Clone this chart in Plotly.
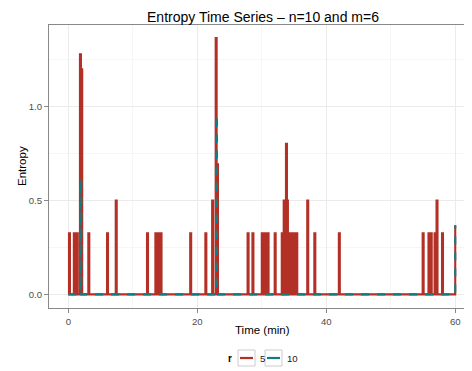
import plotly.graph_objects as go

# ---------------- data ----------------
# r = 5 : spikes (time in minutes, entropy)
r5_spike_times = [0.1, 0.85, 1.3, 1.8, 2.0, 3.1, 6.0, 7.35, 12.2, 13.5, 13.95, 14.3,
                  18.9, 21.25, 22.3, 22.85, 23.05, 27.8, 28.55, 30.0, 30.3, 30.6, 30.9,
                  32.0, 33.1, 33.4, 33.75, 33.9, 34.15, 34.45, 34.75, 35.05, 35.35,
                  37.05, 38.15, 41.95, 54.95, 55.85, 56.2, 56.8, 57.1, 57.95]
r5_spike_values = [0.325, 0.325, 0.325, 1.28, 1.2, 0.325, 0.325, 0.5, 0.325, 0.325, 0.325, 0.325,
                   0.325, 0.325, 0.5, 1.366, 0.693, 0.325, 0.325, 0.325, 0.325, 0.325, 0.325,
                   0.325, 0.325, 0.5, 0.802, 0.5, 0.325, 0.325, 0.325, 0.325, 0.325,
                   0.5, 0.325, 0.325, 0.325, 0.325, 0.325, 0.325, 0.5, 0.325]
# r = 10 : spikes
r10_spike_times = [1.85, 22.9]
r10_spike_values = [0.611, 0.954]

start_time = 0.0
end_time = 60.0
r5_end_value = 0.368
r10_end_value = 0.368
sample_width = 0.15          # one sample (minutes)

series_names = ["5", "10"]
colors = ["#B23026", "#117C82"]

x_ticks = [0, 20, 40, 60]
y_ticks = [0.0, 0.5, 1.0]
y_tick_labels = ["0.0", "0.5", "1.0"]


def build(times, values, end_value, w=sample_width):
    xs, ys = [start_time], [0.0]
    for i, (t, v) in enumerate(zip(times, values)):
        xs.append(t); ys.append(v)
        nxt = times[i + 1] if i + 1 < len(times) else None
        if nxt is None or nxt > t + w + 1e-9:
            xs.append(t + w); ys.append(0.0)
    xs.append(end_time); ys.append(end_value)
    return xs, ys


x5, y5 = build(r5_spike_times, r5_spike_values, r5_end_value)
x10, y10 = build(r10_spike_times, r10_spike_values, r10_end_value)

FONT = "Liberation Sans, Arial, sans-serif"

fig = go.Figure()
fig.add_trace(go.Scatter(x=x5, y=y5, mode="lines", name=series_names[0],
                         line=dict(color=colors[0], width=2.1, shape="hv"), showlegend=False))
fig.add_trace(go.Scatter(x=x10, y=y10, mode="lines", name=series_names[1],
                         line=dict(color=colors[1], width=2.1, dash="8px,8px", shape="hv"),
                         showlegend=False))

# page is drawn with an 8px body margin; compensate so the panel lands where the reference has it
OFF = 8
PAGE_W, PAGE_H = 472, 371
PL, PT, PR, PB = 49, 25, 472, 308          # panel box in page pixels
W, H = PAGE_W - OFF, PAGE_H - OFF
L, T, R, B = PL - OFF, PT - OFF, 0, PAGE_H - PB
PW, PH = W - L - R, H - T - B


def px(xp):
    return (xp - PL) / PW


def py(yp):
    return (PB - yp) / PH


fig.update_layout(
    width=W, height=H,
    margin=dict(l=L, r=R, t=T, b=B, pad=0),
    paper_bgcolor="white", plot_bgcolor="white",
    font=dict(family=FONT, color="#1a1a1a"),
    title=dict(text="Entropy Time Series \u2013 n=10 and m=6", x=px(263), xref="paper",
               xanchor="center", y=1 - (17.5 - OFF) / H, yref="container", yanchor="middle",
               font=dict(size=14, color="#000000", family=FONT)),
    xaxis=dict(range=[-3, 62.6], tickvals=x_ticks, ticktext=[str(v) for v in x_ticks],
               showgrid=True, gridcolor="#EBEBEB", gridwidth=1,
               minor=dict(dtick=10, tick0=0, showgrid=True, gridcolor="#F6F6F6", gridwidth=1),
               zeroline=False, showline=True, linecolor="#888888", linewidth=1, mirror=True,
               ticks="outside", ticklen=4, tickcolor="#888888", tickwidth=1,
               tickfont=dict(size=9.6, color="#4D4D4D", family=FONT)),
    yaxis=dict(range=[-0.0728, 1.4355], tickvals=y_ticks, ticktext=y_tick_labels,
               showgrid=True, gridcolor="#EBEBEB", gridwidth=1,
               minor=dict(dtick=0.25, tick0=0, showgrid=True, gridcolor="#F6F6F6", gridwidth=1),
               zeroline=False, showline=True, linecolor="#888888", linewidth=1, mirror=False,
               ticks="outside", ticklen=4, tickcolor="#888888", tickwidth=1,
               tickfont=dict(size=9.6, color="#4D4D4D", family=FONT)),
)

annotations = [
    dict(text="Time (min)", x=px(263), y=py(330), xref="paper", yref="paper",
         showarrow=False, xanchor="center", yanchor="middle",
         font=dict(size=11.5, color="#000000", family=FONT)),
    dict(text="Entropy", x=px(22), y=py(166), xref="paper", yref="paper", textangle=-90,
         showarrow=False, xanchor="center", yanchor="middle",
         font=dict(size=11.5, color="#000000", family=FONT)),
    dict(text="<b>r</b>", x=px(230), y=py(358), xref="paper", yref="paper",
         showarrow=False, xanchor="center", yanchor="middle",
         font=dict(size=10, color="#000000", family=FONT)),
    dict(text=series_names[0], x=px(257.5), y=py(358), xref="paper", yref="paper",
         showarrow=False, xanchor="left", yanchor="middle",
         font=dict(size=9.6, color="#1a1a1a", family=FONT)),
    dict(text=series_names[1], x=px(285), y=py(358), xref="paper", yref="paper",
         showarrow=False, xanchor="left", yanchor="middle",
         font=dict(size=9.6, color="#1a1a1a", family=FONT)),
]
fig.update_layout(annotations=annotations)

shapes = []
for (x0, x1), c in [((238, 255), colors[0]), ((265, 282), colors[1])]:
    shapes.append(dict(type="rect", xref="paper", yref="paper",
                       x0=px(x0), x1=px(x1), y0=py(350), y1=py(366),
                       line=dict(color="#CCCCCC", width=1), fillcolor="white", layer="above"))
    shapes.append(dict(type="line", xref="paper", yref="paper",
                       x0=px(x0 + 2), x1=px(x1 - 2), y0=py(358), y1=py(358),
                       line=dict(color=c, width=2.2), layer="above"))
fig.update_layout(shapes=shapes)

fig.write_html("out.html")
